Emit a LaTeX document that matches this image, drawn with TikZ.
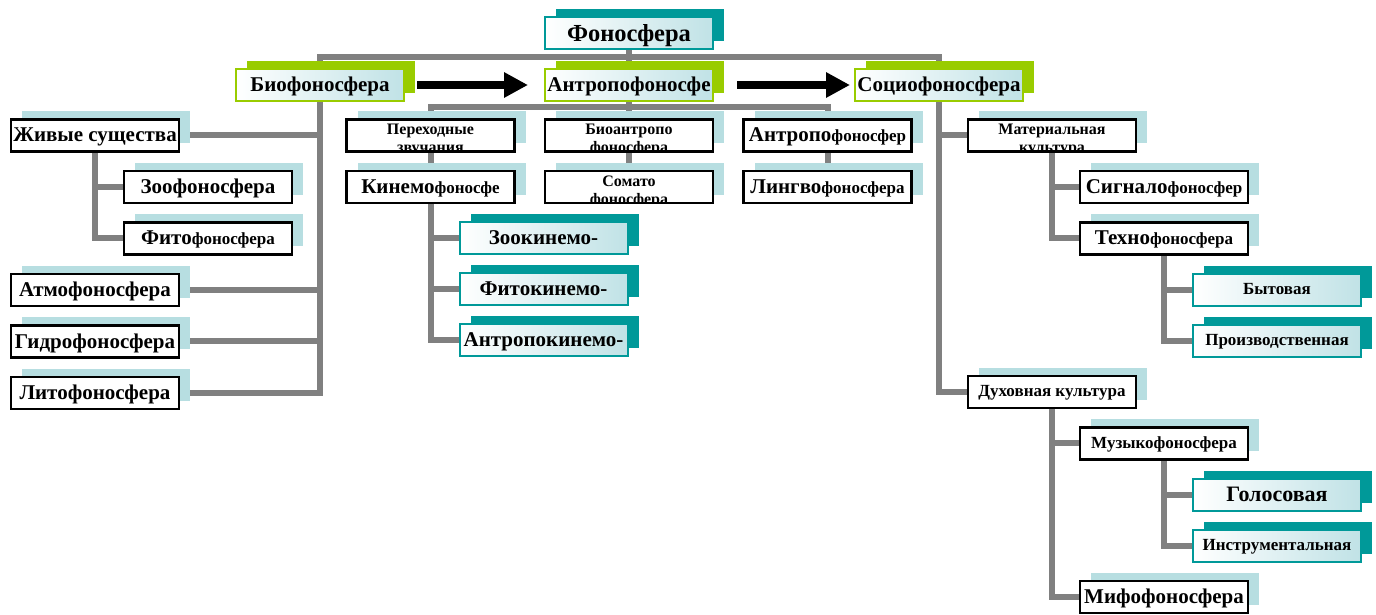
\documentclass[tikz,border=0pt]{standalone}
\usepackage{fontspec}
\setmainfont{Liberation Serif}
\usetikzlibrary{arrows.meta, positioning, shadows, backgrounds}

\definecolor{linkgray}{RGB}{128,128,128}
\definecolor{paleblue}{RGB}{183,222,225}
\definecolor{seateal}{RGB}{0,153,153}
\definecolor{limegreen}{RGB}{153,204,0}
\definecolor{fadeblue}{RGB}{192,226,230}

\newcommand{\txtbig}{\fontsize{24.5}{26}\selectfont\bfseries}
\newcommand{\txtmid}{\fontsize{21}{23}\selectfont\bfseries}
\newcommand{\txtsmall}{\fontsize{17}{19}\selectfont\bfseries}
\newcommand{\txtcut}{\fontsize{16}{18}\selectfont\bfseries}

\begin{document}
\begin{tikzpicture}[
  x=1pt, y=-1pt,
  node distance=17pt,
  %% box styles
  boxbase/.style={
    rectangle, minimum width=168pt, minimum height=32pt,
    inner sep=0pt, text depth=1pt, line width=2.5pt, font=\txtmid},
  plain/.style={boxbase, draw=black, fill=white,
    general shadow={fill=paleblue, shadow xshift=11pt, shadow yshift=8pt}},
  lead/.style={boxbase, draw=limegreen, line width=2pt,
    left color=white, right color=fadeblue,
    general shadow={fill=limegreen, shadow xshift=11pt, shadow yshift=8pt}},
  tealbox/.style={boxbase, draw=seateal, line width=2pt,
    left color=white, right color=fadeblue,
    general shadow={fill=seateal, shadow xshift=11pt, shadow yshift=8pt}},
  small/.style={font=\txtsmall},
  %% two-line text cut off by the lower border
  cut/.style={path picture={
    \node[anchor=center, align=center, font=\txtcut, yshift=-4pt]
      at (path picture bounding box.center) {#1};}},
  link/.style={draw=linkgray, line width=6pt},
  bigarrow/.style={-{Triangle[length=24pt, width=24pt]}, line width=8pt, black}
]
\useasboundingbox (0,0) rectangle (1376,614);

%% ── Top levels ───────────────────────────────────────────────────────────
\node[tealbox, font=\txtbig] (phono) at (629,33) {Фоносфера};
\node[lead] (anthro) at (629,85) {Антропофоносфе};
\node[lead, left=139pt of anthro] (bio) {Биофоносфера};
\node[lead, right=140pt of anthro] (socio) {Социофоносфера};

%% ── Biophonosphere branch ────────────────────────────────────────────────
\node[plain, below=16pt of bio, xshift=-225pt] (zhiv) {Живые существа};
\node[plain, below=of zhiv, xshift=113pt] (zoo) {Зоофоносфера};
\node[plain, below=of zoo] (fito) {Фито{\txtsmall фоносфера}};
\node[plain, below=of fito, xshift=-113pt] (atmo) {Атмофоносфера};
\node[plain, below=of atmo] (gidro) {Гидрофоносфера};
\node[plain, below=of gidro] (lito) {Литофоносфера};

%% ── Anthropophonosphere branch ───────────────────────────────────────────
\node[plain, below=16pt of anthro, cut={Биоантропо\\фоносфера}] (bioantro) {};
\node[plain, left=28pt of bioantro, cut={Переходные\\звучания}] (perekh) {};
\node[plain, right=28pt of bioantro] (antro2) {Антропо{\txtsmall фоносфер}};

\node[plain, below=of perekh] (kinemo) {Кинемо{\txtsmall фоносфе}};
\node[plain, below=of bioantro, cut={Сомато\\фоносфера}] (somato) {};
\node[plain, below=of antro2] (lingvo) {Лингво{\txtsmall фоносфера}};

\node[tealbox, below=of kinemo, xshift=113pt] (zookin) {Зоокинемо-};
\node[tealbox, below=of zookin] (fitokin) {Фитокинемо-};
\node[tealbox, below=of fitokin] (antrokin) {Антропокинемо-};

%% ── Sociophonosphere branch ──────────────────────────────────────────────
\node[plain, below=16pt of socio, xshift=113pt, cut={Материальная\\культура}] (mat) {};
\node[plain, below=of mat, xshift=112pt] (signal) {Сигнало{\txtsmall фоносфер}};
\node[plain, below=of signal] (tekhno) {Техно{\txtsmall фоносфера}};
\node[tealbox, small, below=of tekhno, xshift=113pt] (byt) {Бытовая};
\node[tealbox, small, below=of byt] (proizv) {Производственная};

\node[plain, small, below=of proizv, xshift=-225pt] (dukh) {Духовная культура};
\node[plain, small, below=of dukh, xshift=112pt] (muz) {Музыкофоносфера};
\node[tealbox, font=\fontsize{22}{24}\selectfont\bfseries, below=of muz, xshift=113pt] (golos) {Голосовая};
\node[tealbox, small, below=of golos] (instr) {Инструментальная};
\node[plain, below=of instr, xshift=-113pt] (mifo) {Мифофоносфера};

%% ──────────────────────── Connectors ─────────────────────────────────────
\begin{pgfonlayer}{background}
%% top bar
\draw[link] (phono.south) -- (anthro.north);
\draw[link] (bio.north) -- ++(0,-11) -| (socio.north);

%% biophonosphere column
\draw[link] (bio.south) |- (lito.east);
\draw[link] (zhiv.east) -- (zhiv.east -| bio.south);
\draw[link] (atmo.east) -- (atmo.east -| bio.south);
\draw[link] (gidro.east) -- (gidro.east -| bio.south);
\draw[link] (zhiv.south) |- (fito.west);
\draw[link] (zoo.west) -- (zoo.west -| zhiv.south);

%% anthropophonosphere bar and columns
\draw[link] (perekh.north) -- ++(0,-11) -| (antro2.north);
\draw[link] (anthro.south) -- (bioantro.north);
\draw[link] (perekh.south) -- (kinemo.north);
\draw[link] (bioantro.south) -- (somato.north);
\draw[link] (antro2.south) -- (lingvo.north);
\draw[link] (kinemo.south) |- (antrokin.west);
\draw[link] (zookin.west) -- (zookin.west -| kinemo.south);
\draw[link] (fitokin.west) -- (fitokin.west -| kinemo.south);

%% sociophonosphere column
\draw[link] (socio.south) |- (dukh.west);
\draw[link] (mat.west) -- (mat.west -| socio.south);
\draw[link] (mat.south) |- (tekhno.west);
\draw[link] (signal.west) -- (signal.west -| mat.south);
\draw[link] (tekhno.south) |- (proizv.west);
\draw[link] (byt.west) -- (byt.west -| tekhno.south);
\draw[link] (dukh.south) |- (mifo.west);
\draw[link] (muz.west) -- (muz.west -| dukh.south);
\draw[link] (muz.south) |- (instr.west);
\draw[link] (golos.west) -- (golos.west -| muz.south);
\end{pgfonlayer}

%% evolution arrows
\draw[bigarrow, shorten <=12pt, shorten >=16pt] (bio) -- (anthro);
\draw[bigarrow, shorten <=23pt, shorten >=4pt] (anthro) -- (socio);

\end{tikzpicture}
\end{document}
